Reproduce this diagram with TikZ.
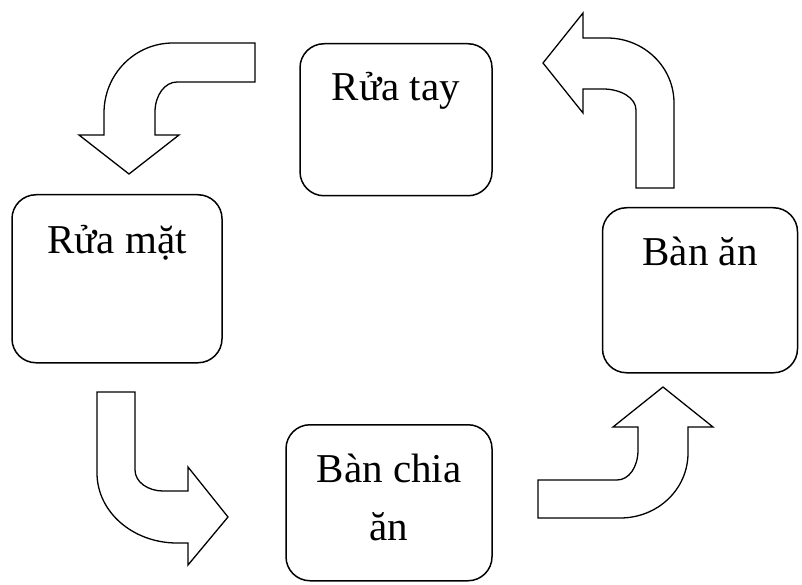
\documentclass[tikz,border=0pt]{standalone}
\usepackage{fontspec}
\setmainfont{Liberation Serif}
\usepackage{tikz}

\begin{document}
\begin{tikzpicture}[x=1pt,y=-1pt,
  stepbox/.style={draw,rounded corners=24pt,line width=1.5pt,anchor=north,inner xsep=0pt,inner ysep=0pt,align=center,font=\fontsize{41}{58}\selectfont},
  barrow/.style={draw,line width=1.3pt,line join=miter,fill=white}]
\useasboundingbox (0,0) rectangle (802,585);
\node [stepbox,minimum width=192pt,text height=57pt,text depth=95pt] (tay) at (396,43) {Rửa tay};
\node [stepbox,minimum width=210pt,text height=59pt,text depth=109pt] (mat) at (117,194) {Rửa mặt};
\node [stepbox,minimum width=195pt,text height=58pt,text depth=107pt] (an) at (700,207) {Bàn ăn};
\node [stepbox,minimum width=206pt,text height=116pt,text depth=40pt] (chia) at (389,424) {Bàn chia\\ăn};
\draw [barrow] (255,43) -- (173,43) .. controls (135,43) and (104,74) .. (104,113) -- (104,135) -- (79,135) -- (129,174) -- (179,135) -- (155,135) -- (155,112) .. controls (155,95) and (165,82) .. (177,82) -- (255,82) -- cycle;
\draw [barrow] (543,63) -- (583,13) -- (583,38) -- (607,38) .. controls (644,38) and (674,67) .. (674,103) -- (674,188) -- (636,188) -- (636,110) .. controls (636,98) and (621,89) .. (603,89) -- (583,89) -- (583,113) -- cycle;
\draw [barrow] (97,392) -- (135,392) -- (135,470) .. controls (135,482) and (148,491) .. (163,491) -- (188,491) -- (188,467) -- (228,517) -- (188,565) -- (188,543) -- (177,543) .. controls (133,543) and (97,512) .. (97,473) -- cycle;
\draw [barrow] (538,480) -- (617,480) .. controls (629,480) and (638,467) .. (638,450) -- (638,427) -- (613,427) -- (663,387) -- (713,427) -- (688,427) -- (688,453) .. controls (688,489) and (658,518) .. (620,518) -- (538,518) -- cycle;
\end{tikzpicture}
\end{document}
